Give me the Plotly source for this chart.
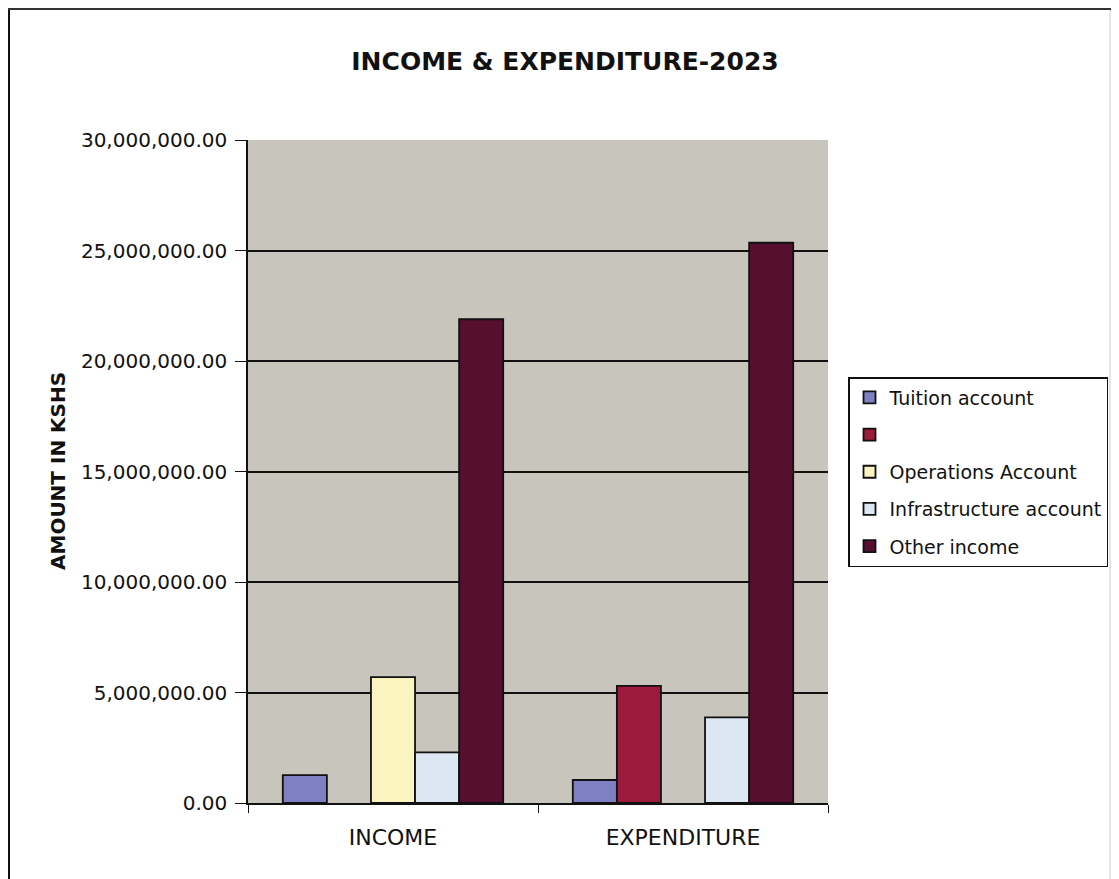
import plotly.graph_objects as go

categories = ["INCOME", "EXPENDITURE"]
series_names = ["Tuition account", " ", "Operations Account", "Infrastructure account", "Other income"]
tuition = [1260000, 1040000]
unnamed = [None, 5300000]
operations = [5700000, None]
infrastructure = [2290000, 3870000]
other_income = [21890000, 25350000]
y_ticks = [0, 5000000, 10000000, 15000000, 20000000, 25000000, 30000000]

series_values = [tuition, unnamed, operations, infrastructure, other_income]
colors = ["#7f80c4", "#9c1a3c", "#fbf3c0", "#dde6f3", "#560f2e"]

OFF = 8  # page offset of the figure
W, H = 1119 - OFF, 879 - OFF
# plot area in page pixels: x 248..828, y 140..803
L = 248 - OFF
T = 140 - OFF
R = (W + OFF) - 828
B = (H + OFF) - 803

pw = W - L - R
ph = H - T - B
def px_x(x):  # page pixel -> paper
    return (x - OFF - L) / pw
def px_y(y):
    return (H + OFF - B - y) / ph

FONT = "DejaVu Sans, Liberation Sans, Arial, sans-serif"

fig = go.Figure()
for i, (name, vals, col) in enumerate(zip(series_names, series_values, colors)):
    fig.add_trace(go.Bar(
        x=categories, y=vals, name=name, legendgroup=f"g{i}",
        marker=dict(color=col, line=dict(color="#111111", width=1.8)),
    ))

fig.update_layout(
    width=W, height=H,
    margin=dict(l=L, r=R, t=T, b=B, autoexpand=False),
    paper_bgcolor="white",
    plot_bgcolor="#c8c5bc",
    barmode="group",
    bargap=0.24,
    bargroupgap=0,
    title=dict(text="<b>INCOME &amp; EXPENDITURE-2023</b>", x=(565 - OFF) / W, xref="container",
               y=1 - (61 - OFF) / H, yref="container", xanchor="center", yanchor="middle",
               font=dict(family=FONT, size=25, color="#111111")),
    font=dict(family=FONT, color="#111111"),
    showlegend=True,
    legend=dict(
        x=px_x(848), y=px_y(377), xanchor="left", yanchor="top",
        bgcolor="white", bordercolor="#111111", borderwidth=1.5,
        font=dict(family=FONT, size=19, color="#111111"),
        tracegroupgap=9.5, itemwidth=30,
    ),
    xaxis=dict(
        showline=True, linecolor="#111111", linewidth=1.5,
        ticks="outside", tickson="boundaries", ticklen=8, tickcolor="#111111",
        ticklabelstandoff=14,
        tickfont=dict(family=FONT, size=22, color="#111111"),
        showgrid=False,
    ),
    yaxis=dict(
        range=[0, 30000000], tickvals=y_ticks, tickformat=",.2f",
        showline=True, linecolor="#111111", linewidth=1.5,
        ticks="outside", ticklen=11, tickcolor="#111111",
        ticklabelstandoff=4,
        tickfont=dict(family=FONT, size=20, color="#111111"),
        showgrid=True, gridcolor="#111111", gridwidth=1.5,
        zeroline=False,
    ),
    annotations=[dict(
        text="<b>AMOUNT IN KSHS</b>", textangle=-90,
        x=px_x(58), y=px_y(471), xref="paper", yref="paper",
        xanchor="center", yanchor="middle", showarrow=False,
        font=dict(family=FONT, size=20, color="#111111"),
    )],
    shapes=[
        dict(type="line", xref="paper", yref="paper", x0=px_x(9), x1=px_x(9), y0=px_y(10), y1=px_y(879),
             line=dict(color="#111111", width=2)),
        dict(type="line", xref="paper", yref="paper", x0=px_x(8), x1=px_x(1119), y0=px_y(9), y1=px_y(9),
             line=dict(color="#333333", width=2)),
        dict(type="line", xref="paper", yref="paper", x0=px_x(1110), x1=px_x(1110), y0=px_y(10), y1=px_y(879),
             line=dict(color="#cccccc", width=1)),
    ],
)

fig.write_html("out.html")
